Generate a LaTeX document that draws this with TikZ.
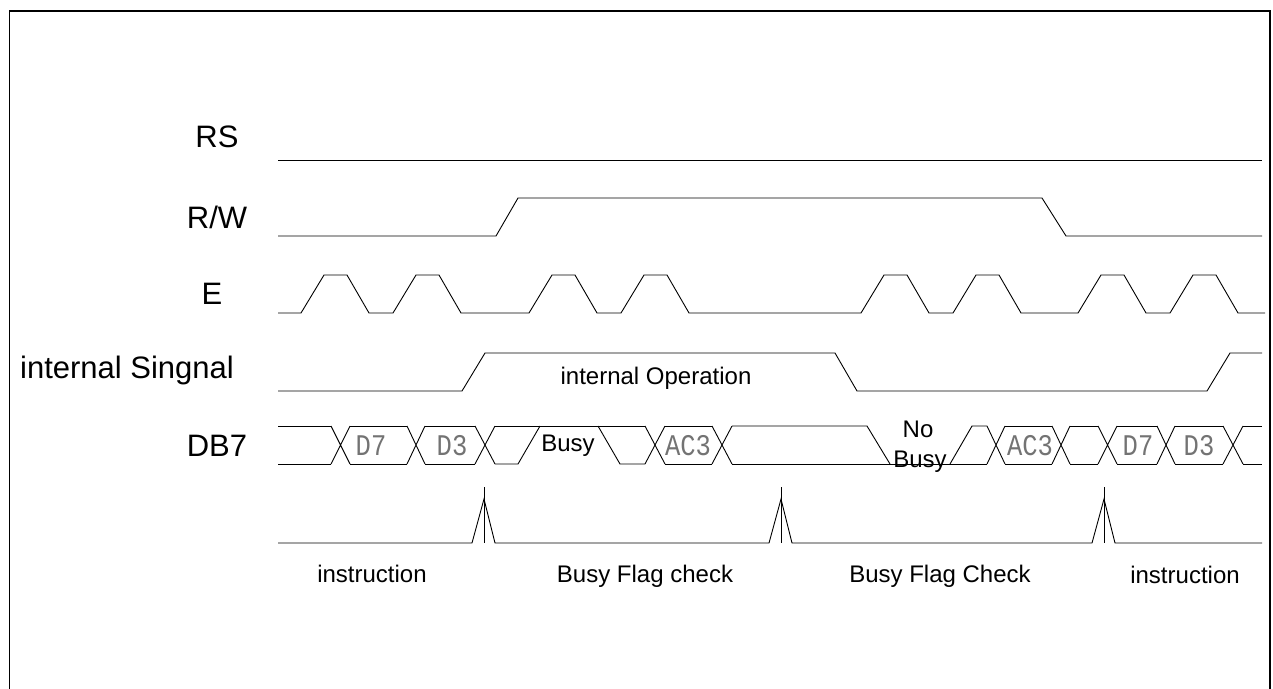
\documentclass[tikz,border=0pt]{standalone}
\usepackage{fontspec}
\setmainfont{Liberation Sans}
\newfontfamily\plotfont{Liberation Mono}

\begin{document}
\begin{tikzpicture}[x=1pt, y=-1pt, line width=0.9pt,
		siglabel/.style={font=\fontsize{31}{36}\selectfont, anchor=base},
		note/.style={font=\fontsize{24}{28}\selectfont, anchor=base},
		datatext/.style={font=\plotfont\fontsize{30}{32}\selectfont, text=black!55, anchor=base, xscale=0.85}]
		\useasboundingbox (0, 0) rectangle (1273, 688);
		\clip (0, 0) rectangle (1273, 688);
		\draw [line width=1.6pt] (9.5, 11) rectangle (1270, 700);

		% signal names
		\node[siglabel] (rs) at (217, 147) {RS};
		\node[siglabel] (rw) at (217, 228) {R/W};
		\node[siglabel] (e) at (212, 304) {E};
		\node[siglabel] (intsig) at (127, 378) {internal Singnal};
		\node[siglabel] (db7) at (217, 456) {DB7};

		% RS and R/W
		\draw (278, 160) -- (1262, 160);
		\draw (278, 236) -- (496, 236) -- (518, 198) -- (1042, 198) -- (1066, 236) -- (1262, 236);

		% E strobes
		\draw (278, 313)
			\foreach \s in {301, 393, 529, 621, 861, 953, 1078, 1170}
				{ -- (\s, 313) -- (\s+23, 275) -- (\s+46, 275) -- (\s+68, 313) }
			-- (1265, 313);

		% internal signal
		\draw (278, 391) -- (462, 391) -- (485, 353) -- (835, 353) -- (857, 391)
			-- (1207, 391) -- (1230, 353) -- (1262, 353);
		\node[note] (intop) at (656, 384) {internal Operation};

		% DB7 bus
		\foreach \a/\b in {278/331, 350/407, 425/475, 665/712, 1005/1052,
				1070/1098, 1117/1157, 1175/1223, 1243/1262}
			\draw (\a, 426) -- (\b, 426) (\a, 464) -- (\b, 464);
		\foreach \a/\b in {331/350, 407/425, 475/495, 645/665, 712/732,
				987/1005, 1052/1070, 1098/1117, 1157/1175, 1223/1243}
			\draw (\a, 426) -- (\b, 464) (\a, 464) -- (\b, 426);
		\draw (495, 426) -- (645, 426);
		\draw (495, 464) -- (518, 464) -- (540, 426);
		\draw (598, 426) -- (620, 464) -- (645, 464);
		\draw (732, 426) -- (867, 426) -- (890, 464);
		\draw (732, 464) -- (987, 464);
		\draw (950, 464) -- (972, 426) -- (987, 426);

		\node[datatext] (d7a) at (371, 455) {D7};
		\node[datatext] (d3a) at (452, 455) {D3};
		\node[datatext] (ac3a) at (688, 455) {AC3};
		\node[datatext] (ac3b) at (1030, 455) {AC3};
		\node[datatext] (d7b) at (1138, 455) {D7};
		\node[datatext] (d3b) at (1199, 455) {D3};
		\node[note] (busy) at (568, 451) {Busy};
		\node[note] (nobusy) at (918, 437) {No};
		\node[note] (nobusyb) at (920, 467) {Busy};

		% cycle markers
		\draw (278, 543)
			\foreach \p in {484, 781, 1104}
				{ -- (\p-12, 543) -- (\p, 499) -- (\p+11, 543) }
			-- (1262, 543);
		\foreach \p in {484, 781, 1104}
			\draw (\p, 487) -- (\p, 543);

		\node[note] (instra) at (372, 582) {instruction};
		\node[note] (bfc) at (645, 582) {Busy Flag check};
		\node[note] (bfcb) at (940, 582) {Busy Flag Check};
		\node[note] (instrb) at (1185, 583) {instruction};
	\end{tikzpicture}
\end{document}
